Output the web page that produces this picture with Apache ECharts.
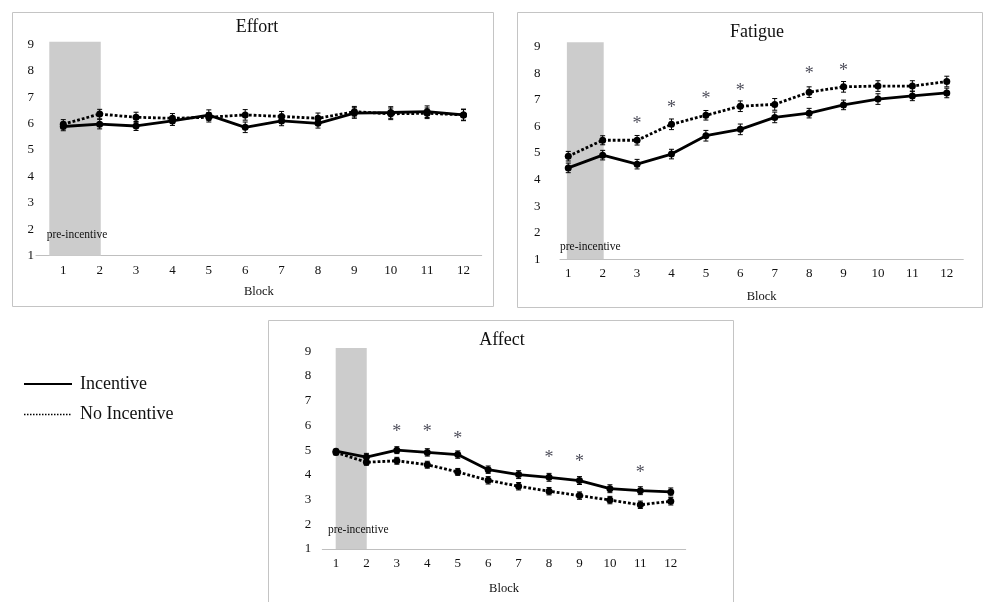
<!DOCTYPE html>
<html lang="en">
<head>
<meta charset="utf-8">
<title>Effort, Fatigue and Affect by block</title>
<style>
  html, body { margin: 0; padding: 0; background: #fff; }
  #chart { width: 986px; height: 602px; }
</style>
</head>
<body>
<div id="chart"></div>
<script src="https://cdn.jsdelivr.net/npm/echarts@6/dist/echarts.min.js"></script>
<script>
// blocks on the x axis and ticks on the y axis
var blocks = [1, 2, 3, 4, 5, 6, 7, 8, 9, 10, 11, 12];
var yTicks = [1, 2, 3, 4, 5, 6, 7, 8, 9];

// Effort
var effortIncentive      = [5.89, 5.98, 5.91, 6.10, 6.32, 5.86, 6.10, 6.01, 6.40, 6.42, 6.45, 6.33];
var effortIncentiveErr   = [0.16, 0.18, 0.17, 0.17, 0.20, 0.20, 0.18, 0.18, 0.20, 0.22, 0.22, 0.22];
var effortNoIncentive    = [5.98, 6.36, 6.24, 6.20, 6.24, 6.33, 6.27, 6.20, 6.45, 6.37, 6.39, 6.33];
var effortNoIncentiveErr = [0.17, 0.18, 0.19, 0.18, 0.18, 0.20, 0.19, 0.20, 0.20, 0.22, 0.20, 0.20];

// Fatigue
var fatigueIncentive      = [4.44, 4.92, 4.58, 4.96, 5.65, 5.89, 6.34, 6.50, 6.81, 7.03, 7.15, 7.26];
var fatigueIncentiveErr   = [0.18, 0.18, 0.18, 0.18, 0.20, 0.20, 0.20, 0.18, 0.18, 0.20, 0.18, 0.18];
var fatigueNoIncentive    = [4.88, 5.48, 5.48, 6.08, 6.42, 6.76, 6.83, 7.29, 7.49, 7.52, 7.52, 7.69];
var fatigueNoIncentiveErr = [0.18, 0.17, 0.18, 0.20, 0.18, 0.20, 0.22, 0.20, 0.20, 0.20, 0.20, 0.20];
var fatigueStarBlocks  = [3, 4, 5, 6, 8, 9];
var fatigueStarHeights = [6.20, 6.83, 7.14, 7.45, 8.09, 8.20];

// Affect
var affectIncentive      = [4.96, 4.72, 5.00, 4.91, 4.82, 4.21, 4.01, 3.90, 3.77, 3.44, 3.36, 3.31];
var affectIncentiveErr   = [0.08, 0.15, 0.14, 0.15, 0.15, 0.15, 0.16, 0.16, 0.16, 0.16, 0.16, 0.16];
var affectNoIncentive    = [4.91, 4.51, 4.57, 4.41, 4.12, 3.78, 3.54, 3.34, 3.16, 2.98, 2.79, 2.93];
var affectNoIncentiveErr = [0.10, 0.12, 0.14, 0.14, 0.14, 0.15, 0.15, 0.15, 0.15, 0.15, 0.15, 0.15];
var affectStarBlocks  = [3, 4, 5, 8, 9, 11];
var affectStarHeights = [5.86, 5.86, 5.60, 4.82, 4.64, 4.21];

var serif = 'Liberation Serif';
var ink = '#111';

// panel layout (positions only); yMax is the top of the grey band
var panels = [
  { title: 'Effort',  titleX: 257, titleY: 27,
    grid: { left: 36, top: 41.7, width: 445.7, height: 214 },
    xMin: 0.25, xMax: 12.5, yMax: 9.1, band: [0.615, 2.03], bandLabel: [2, 15],
    yMargin: 2, nameGap: 29.5,
    box: [12.5, 12.5, 481, 294],
    inc: effortIncentive, incErr: effortIncentiveErr,
    noInc: effortNoIncentive, noIncErr: effortNoIncentiveErr,
    starBlocks: [], starHeights: [] },
  { title: 'Fatigue', titleX: 757, titleY: 32,
    grid: { left: 560, top: 42.2, width: 403.3, height: 217.1 },
    xMin: 0.76, xMax: 12.48, yMax: 9.17, band: [0.96, 2.03], bandLabel: [5, 6],
    yMargin: 19.5, nameGap: 30.5,
    box: [517.5, 12.5, 465, 295],
    inc: fatigueIncentive, incErr: fatigueIncentiveErr,
    noInc: fatigueNoIncentive, noIncErr: fatigueNoIncentiveErr,
    starBlocks: fatigueStarBlocks, starHeights: fatigueStarHeights },
  { title: 'Affect',  titleX: 502, titleY: 340,
    grid: { left: 322.3, top: 348.1, width: 363.4, height: 200.9 },
    xMin: 0.55, xMax: 12.49, yMax: 9.13, band: [0.99, 2.01], bandLabel: [7, 13],
    yMargin: 11, nameGap: 33,
    box: [268.5, 320.5, 465, 300],
    inc: affectIncentive, incErr: affectIncentiveErr,
    noInc: affectNoIncentive, noIncErr: affectNoIncentiveErr,
    starBlocks: affectStarBlocks, starHeights: affectStarHeights }
];

function pairs(xs, ys) {
  return xs.map(function (x, i) { return [x, ys[i]]; });
}

function errorBars(idx, vals, errs) {
  return {
    type: 'custom',
    xAxisIndex: idx,
    yAxisIndex: idx,
    silent: true,
    z: 3,
    encode: { x: 0, y: [1, 2] },
    data: vals.map(function (v, i) { return [blocks[i], v - errs[i], v + errs[i]]; }),
    renderItem: function (params, api) {
      var lo = api.coord([api.value(0), api.value(1)]);
      var hi = api.coord([api.value(0), api.value(2)]);
      var w = 2.5;
      var st = { stroke: '#000', lineWidth: 1 };
      return {
        type: 'group',
        children: [
          { type: 'line', shape: { x1: lo[0], y1: lo[1], x2: hi[0], y2: hi[1] }, style: st },
          { type: 'line', shape: { x1: lo[0] - w, y1: lo[1], x2: lo[0] + w, y2: lo[1] }, style: st },
          { type: 'line', shape: { x1: hi[0] - w, y1: hi[1], x2: hi[0] + w, y2: hi[1] }, style: st }
        ]
      };
    }
  };
}

var grids = [], xAxes = [], yAxes = [], titles = [], series = [], boxes = [];

panels.forEach(function (p, idx) {
  grids.push(p.grid);
  titles.push({
    text: p.title, left: p.titleX, top: p.titleY, padding: 0,
    textAlign: 'center', textVerticalAlign: 'middle',
    textStyle: { fontFamily: serif, fontSize: 18, fontWeight: 'normal', color: ink }
  });
  xAxes.push({
    gridIndex: idx, type: 'value', min: p.xMin, max: p.xMax,
    name: 'Block', nameLocation: 'middle', nameGap: p.nameGap,
    nameTextStyle: { fontFamily: serif, fontSize: 12.5, color: ink },
    axisLine: { show: true, onZero: false, lineStyle: { color: '#bfbfbf', width: 1 } },
    axisTick: { show: false },
    splitLine: { show: false },
    axisLabel: { customValues: blocks, margin: 8, fontFamily: serif, fontSize: 13, color: ink }
  });
  yAxes.push({
    gridIndex: idx, type: 'value', min: 1, max: p.yMax,
    axisLine: { show: false },
    axisTick: { show: false },
    splitLine: { show: false },
    axisLabel: { customValues: yTicks, margin: p.yMargin, fontFamily: serif, fontSize: 13, color: ink }
  });

  series.push({
    name: 'Incentive', type: 'line', xAxisIndex: idx, yAxisIndex: idx,
    data: pairs(blocks, p.inc), z: 4,
    symbol: 'circle', symbolSize: 7,
    itemStyle: { color: '#000' },
    lineStyle: { color: '#000', width: 2.8 },
    markArea: {
      silent: true,
      itemStyle: { color: '#cccccc' },
      label: {
        show: true, position: 'insideBottom',
        offset: [p.bandLabel[0], 0], distance: p.bandLabel[1],
        fontFamily: serif, fontSize: 11.5, color: ink
      },
      data: [[{ name: 'pre-incentive', xAxis: p.band[0], yAxis: 1 },
              { xAxis: p.band[1], yAxis: p.yMax }]]
    }
  });
  series.push({
    name: 'No Incentive', type: 'line', xAxisIndex: idx, yAxisIndex: idx,
    data: pairs(blocks, p.noInc), z: 4,
    symbol: 'circle', symbolSize: 7,
    itemStyle: { color: '#000' },
    lineStyle: { color: '#000', width: 2.8, type: [2.8, 2] }
  });
  series.push(errorBars(idx, p.inc, p.incErr));
  series.push(errorBars(idx, p.noInc, p.noIncErr));
  if (p.starBlocks.length) {
    series.push({
      type: 'scatter', xAxisIndex: idx, yAxisIndex: idx, silent: true,
      data: pairs(p.starBlocks, p.starHeights),
      symbol: 'circle', symbolSize: 1,
      itemStyle: { color: 'rgba(0,0,0,0)' },
      label: {
        show: true, position: 'inside', formatter: '*', offset: [0, 3.5],
        fontFamily: serif, fontSize: 18, color: '#1c1c2c'
      }
    });
  }
  boxes.push({
    type: 'rect', silent: true, z: -10,
    shape: { x: p.box[0], y: p.box[1], width: p.box[2], height: p.box[3] },
    style: { fill: 'none', stroke: '#c4c4c4', lineWidth: 1 }
  });
});

var myChart = echarts.init(document.getElementById('chart'), null, { renderer: 'canvas' });
myChart.setOption({
  backgroundColor: '#fff',
  animation: false,
  title: titles,
  grid: grids,
  xAxis: xAxes,
  yAxis: yAxes,
  legend: {
    orient: 'vertical', left: 18, top: 370,
    itemWidth: 48, itemHeight: 18, itemGap: 12.5,
    itemStyle: { opacity: 0 },
    textStyle: { fontFamily: serif, fontSize: 18, color: ink, padding: [0, 0, 0, 3] },
    data: [
      { name: 'Incentive', lineStyle: { width: 2, type: 'solid' } },
      { name: 'No Incentive', lineStyle: { width: 1.5, type: [1.5, 1.5] } }
    ]
  },
  graphic: boxes,
  series: series
});
</script>
</body>
</html>
